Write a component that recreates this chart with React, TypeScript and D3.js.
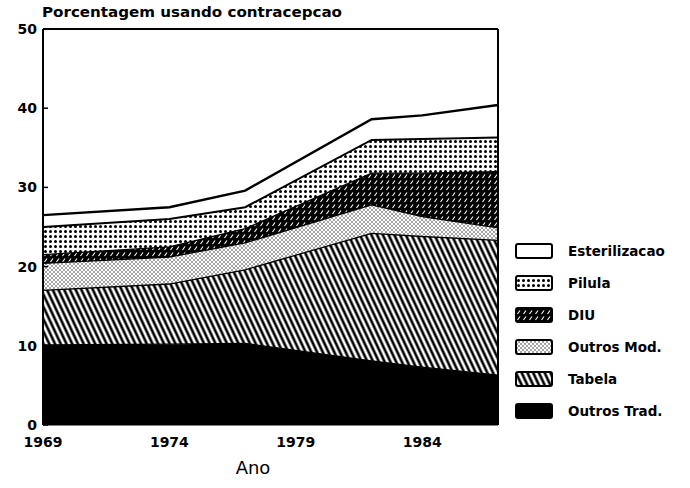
import { useMemo } from "react";
import * as d3 from "d3";

// survey years and per-method prevalence (percent)
const years = [1969, 1974, 1977, 1982, 1984, 1987];
const outrosTrad = [10.1, 10.2, 10.3, 8.1, 7.3, 6.3];
const tabela = [6.9, 7.6, 9.3, 16.1, 16.5, 17.0];
const outrosMod = [3.4, 3.4, 3.4, 3.6, 2.5, 1.6];
const diu = [1.1, 1.3, 1.8, 4.0, 5.5, 7.1];
const pilula = [3.5, 3.5, 2.7, 4.2, 4.3, 4.3];
const esterilizacao = [1.5, 1.5, 2.1, 2.6, 3.0, 4.1];

const seriesKeys = ["outrosTrad", "tabela", "outrosMod", "diu", "pilula", "esterilizacao"];
const seriesLabels = ["Outros Trad.", "Tabela", "Outros Mod.", "DIU", "Pilula", "Esterilizacao"];
const yTicks = [0, 10, 20, 30, 40, 50];
const xTicks = [1969, 1974, 1979, 1984];

const W = 690;
const H = 488;
const margin = { top: 29, right: 192, bottom: 63, left: 43 };
const FONT = "'DejaVu Sans', Arial, sans-serif";

const fills: Record<string, string> = {
  outrosTrad: "#000",
  tabela: "url(#pTabela)",
  outrosMod: "url(#pMod)",
  diu: "url(#pDiu)",
  pilula: "url(#pPilula)",
  esterilizacao: "#fff",
};

export default function App() {
  const innerW = W - margin.left - margin.right;
  const innerH = H - margin.top - margin.bottom;

  const { layers, x, y, area, top } = useMemo(() => {
    const rows = years.map((yr, i) => ({
      year: yr,
      outrosTrad: outrosTrad[i],
      tabela: tabela[i],
      outrosMod: outrosMod[i],
      diu: diu[i],
      pilula: pilula[i],
      esterilizacao: esterilizacao[i],
    }));
    const layers = d3.stack<any>().keys(seriesKeys)(rows);
    const x = d3.scaleLinear().domain([1969, 1987]).range([0, innerW]);
    const y = d3.scaleLinear().domain([0, 50]).range([innerH, 0]);
    const area = d3
      .area<any>()
      .x((d) => x(d.data.year))
      .y0((d) => y(d[0]))
      .y1((d) => y(d[1]));
    const top = d3
      .line<any>()
      .x((d) => x(d.data.year))
      .y((d) => y(d[1]));
    return { layers, x, y, area, top };
  }, [innerW, innerH]);

  return (
    <svg width={W} height={H} style={{ position: "absolute", left: 0, top: 0, background: "#fff" }}>
      <defs>
        <pattern id="pTabela" patternUnits="userSpaceOnUse" width={5.2} height={10} patternTransform="rotate(-25)">
          <rect width={5.2} height={10} fill="#fff" />
          <line x1={2.6} y1={0} x2={2.6} y2={10} stroke="#000" strokeWidth={2.6} />
        </pattern>
        <pattern id="pMod" patternUnits="userSpaceOnUse" width={4} height={4}>
          <rect width={4} height={4} fill="#fff" />
          <circle cx={1} cy={1} r={0.7} fill="#000" />
          <circle cx={3} cy={3} r={0.7} fill="#000" />
        </pattern>
        <pattern id="pDiu" patternUnits="userSpaceOnUse" width={6} height={6}>
          <rect width={6} height={6} fill="#000" />
          <line x1={1.5} y1={5} x2={4} y2={1.5} stroke="#fff" strokeWidth={1.1} />
        </pattern>
        <pattern id="pPilula" patternUnits="userSpaceOnUse" width={5} height={5}>
          <rect width={5} height={5} fill="#fff" />
          <circle cx={2.5} cy={2.5} r={1.5} fill="#000" />
        </pattern>
      </defs>

      <text
        x={42}
        y={17}
        fontFamily={FONT}
        fontSize={14}
        fontWeight="bold"
        fill="#000"
        textLength={300}
        lengthAdjust="spacingAndGlyphs"
      >
        Porcentagem usando contracepcao
      </text>

      <g transform={`translate(${margin.left},${margin.top})`}>
        {layers.map((layer) => (
          <path key={layer.key} d={area(layer) || ""} fill={fills[layer.key]} stroke="none" />
        ))}
        {layers.map((layer) => (
          <path
            key={layer.key + "-top"}
            d={top(layer) || ""}
            fill="none"
            stroke="#000"
            strokeWidth={layer.key === "esterilizacao" ? 2.4 : layer.key === "pilula" ? 2 : 1.3}
          />
        ))}

        {/* frame */}
        <line x1={0} y1={0} x2={innerW} y2={0} stroke="#000" strokeWidth={2} />
        <line x1={innerW} y1={0} x2={innerW} y2={innerH} stroke="#000" strokeWidth={2} />
        <line x1={0} y1={0} x2={0} y2={innerH} stroke="#000" strokeWidth={2} />
        <line x1={0} y1={innerH} x2={innerW} y2={innerH} stroke="#000" strokeWidth={1} />

        {yTicks.map((t) => (
          <g key={t} transform={`translate(0,${y(t)})`}>
            <line x1={0} x2={5} stroke="#000" strokeWidth={1.5} />
            <text x={-6} dy="0.36em" textAnchor="end" fontFamily={FONT} fontSize={14} fontWeight="bold">
              {t}
            </text>
          </g>
        ))}

        {xTicks.map((t) => (
          <text
            key={t}
            x={x(t)}
            y={innerH + 22}
            textAnchor="middle"
            fontFamily={FONT}
            fontSize={14}
            fontWeight="bold"
          >
            {t}
          </text>
        ))}
        <text x={210} y={innerH + 49} textAnchor="middle" fontFamily={FONT} fontSize={18}>
          Ano
        </text>
      </g>

      <g transform="translate(516,251)">
        {seriesKeys
          .slice()
          .reverse()
          .map((k, i) => (
            <g key={k} transform={`translate(0,${i * 32})`}>
              <rect x={0} y={-7} width={36} height={14} rx={2} fill={fills[k]} stroke="#000" strokeWidth={2} />
              <text x={52} dy="0.36em" fontFamily={FONT} fontSize={13.5} fontWeight="bold">
                {seriesLabels[seriesKeys.length - 1 - i]}
              </text>
            </g>
          ))}
      </g>
    </svg>
  );
}
